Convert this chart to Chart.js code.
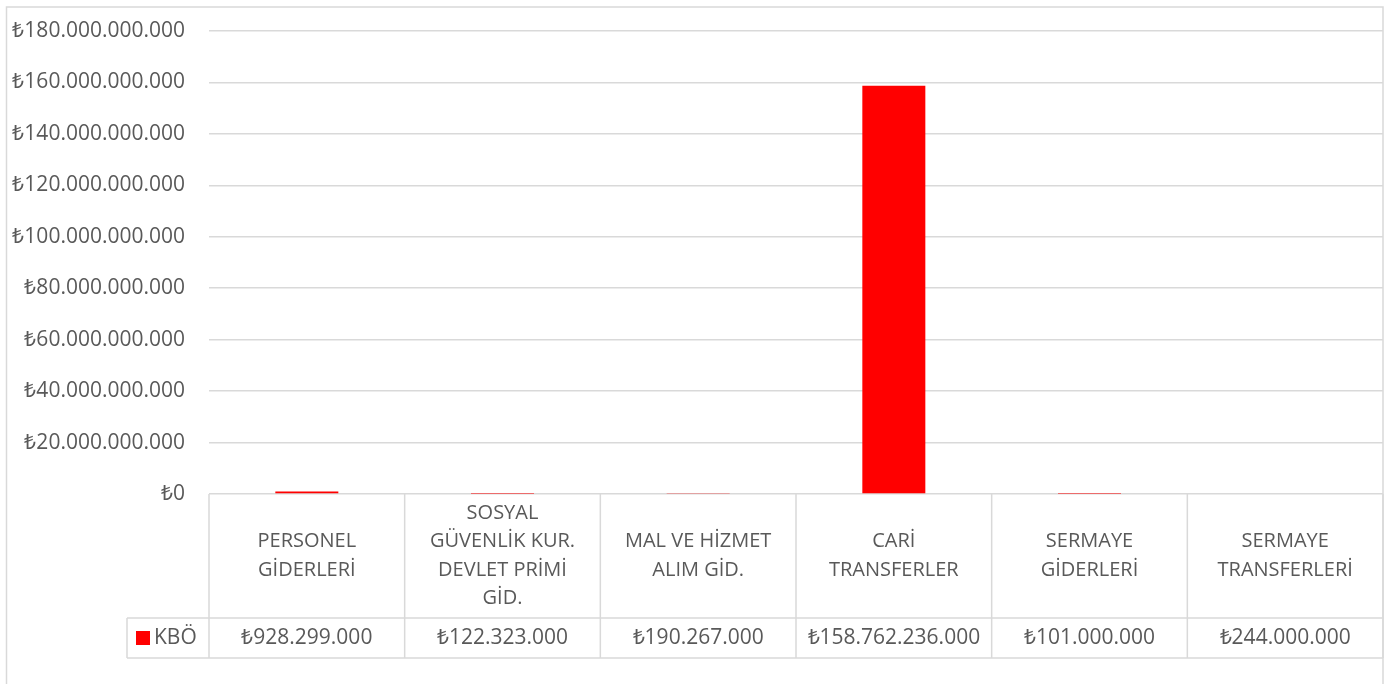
<!DOCTYPE html>
<html>
<head>
<meta charset="utf-8">
<script src="https://cdn.jsdelivr.net/npm/chart.js@4"></script>
<style>
  body { margin: 0; background: #fff; }
  #wrap { width: 1396px; height: 684px; position: relative; }
</style>
</head>
<body>
<div id="wrap"><canvas id="canvasKbo"></canvas></div>
<script>
// data
var categories = [
    ["PERSONEL", "GİDERLERİ"],
    ["SOSYAL", "GÜVENLİK KUR.", "DEVLET PRİMİ", "GİD."],
    ["MAL VE HİZMET", "ALIM GİD."],
    ["CARİ", "TRANSFERLER"],
    ["SERMAYE", "GİDERLERİ"],
    ["SERMAYE", "TRANSFERLERİ"]
];
var seriesName = "KBÖ";
var kboValues = [928299000, 122323000, 190267000, 158762236000, 101000000, 244000000];
var yTicks = [0, 20000000000, 40000000000, 60000000000, 80000000000, 100000000000,
              120000000000, 140000000000, 160000000000, 180000000000];

var textColor = "#595959";
var lineColor = "#d9d9d9";
var barColor = "#ff0000";

function lira(v) {
    var s = Math.round(v).toString().replace(/\B(?=(\d{3})+(?!\d))/g, ".");
    return "₺" + s;
}

// chart frame + data table under the plot
var tablePlugin = {
    id: "dataTable",
    beforeDraw: function(chart) {
        var c = chart.ctx;
        c.save();
        c.fillStyle = "#fff";
        c.fillRect(0, 0, chart.width, chart.height);
        c.strokeStyle = lineColor;
        c.lineWidth = 1.5;
        c.strokeRect(6.5, 7, 1376.5, 700);
        c.restore();
    },
    beforeDatasetsDraw: function(chart) {
        var c = chart.ctx;
        var area = chart.chartArea;
        var n = categories.length;
        var w = (area.right - area.left) / n;
        var top = area.bottom;
        var mid = top + 124;
        var bot = mid + 40;
        var legLeft = 127;

        c.save();
        c.strokeStyle = lineColor;
        c.lineWidth = 1.5;
        c.beginPath();
        c.moveTo(legLeft, mid); c.lineTo(area.right, mid);
        c.moveTo(legLeft, bot); c.lineTo(area.right, bot);
        c.moveTo(legLeft, mid); c.lineTo(legLeft, bot);
        for (var i = 0; i <= n; i++) {
            var x = area.left + i * w;
            c.moveTo(x, top); c.lineTo(x, bot);
        }
        c.stroke();
        c.restore();
    },
    afterDraw: function(chart) {
        var c = chart.ctx;
        var area = chart.chartArea;
        var n = categories.length;
        var top = area.bottom;
        var mid = top + 124;
        var bot = mid + 40;

        c.save();
        c.fillStyle = textColor;
        c.textAlign = "center";
        c.textBaseline = "middle";
        for (var i = 0; i < n; i++) {
            var cx = chart.scales.x.getPixelForValue(i);
            var lines = categories[i];
            var lh = 28.5;
            var y0 = (top + mid) / 2 - (lines.length - 1) * lh / 2;
            c.font = "20px 'Open Sans'";
            for (var j = 0; j < lines.length; j++) {
                c.fillText(lines[j], cx, y0 + j * lh);
            }
            c.font = "21px 'Open Sans'";
            c.fillText(lira(kboValues[i]), cx, (mid + bot) / 2);
        }

        // legend key inside the table
        c.fillStyle = barColor;
        c.fillRect(136, (mid + bot) / 2 - 7, 14, 14);
        c.fillStyle = textColor;
        c.textAlign = "left";
        c.font = "21px 'Open Sans'";
        c.fillText(seriesName, 154, (mid + bot) / 2);
        c.restore();
    }
};

var ctx = document.getElementById("canvasKbo").getContext("2d");
new Chart(ctx, {
    type: "bar",
    data: {
        labels: categories,
        datasets: [{
            label: seriesName,
            data: kboValues,
            backgroundColor: barColor,
            borderWidth: 0,
            categoryPercentage: 1,
            barPercentage: 0.322
        }]
    },
    options: {
        responsive: true,
        maintainAspectRatio: false,
        animation: false,
        layout: { padding: { top: 31, right: 13, bottom: 190, left: 0 } },
        plugins: {
            legend: { display: false },
            tooltip: { enabled: false }
        },
        scales: {
            x: { display: false },
            y: {
                min: 0,
                max: 180000000000,
                afterFit: function(scale) {
                    scale.width = 209;
                    scale.paddingTop = 0;
                    scale.paddingBottom = 0;
                },
                afterBuildTicks: function(scale) {
                    scale.ticks = yTicks.map(function(v) { return { value: v }; });
                },
                border: { display: false },
                grid: { color: lineColor, lineWidth: 1.5, drawTicks: false },
                ticks: {
                    padding: 24,
                    color: textColor,
                    font: { family: "'Open Sans'", size: 21 },
                    callback: function(v) { return lira(v); }
                }
            }
        }
    },
    plugins: [tablePlugin]
});
</script>
</body>
</html>
